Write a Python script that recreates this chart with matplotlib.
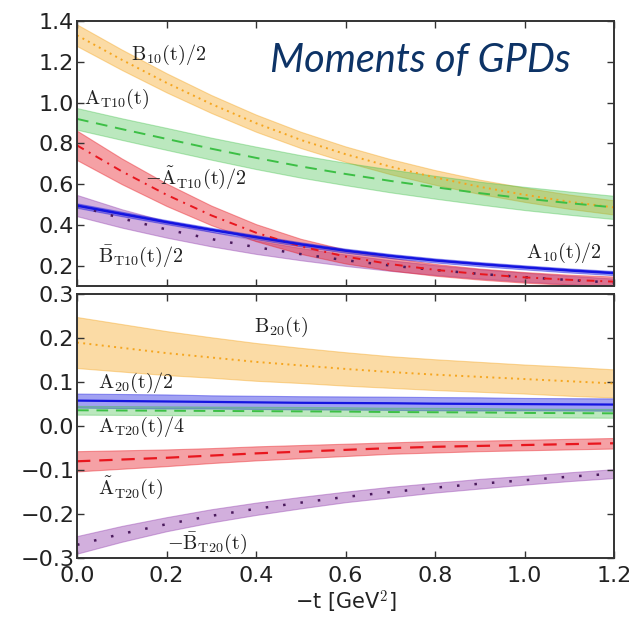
import numpy as np
import matplotlib
matplotlib.use("Agg")
from matplotlib import pyplot as plt

plt.rcParams['mathtext.fontset'] = 'cm'

# -t grid [GeV^2]
t = [0.0, 0.1, 0.2, 0.3, 0.4, 0.5, 0.6, 0.7, 0.8, 0.9, 1.0, 1.1, 1.2]

# n=1 moments (top panel): central values and band half-widths
b10_half = [1.33, 1.21, 1.097, 0.993, 0.899, 0.817, 0.747, 0.686, 0.633, 0.587, 0.548, 0.514, 0.486]
b10_half_err = [0.053, 0.050, 0.047, 0.044, 0.042, 0.040, 0.038, 0.037, 0.036, 0.035, 0.035, 0.035, 0.035]
at10 = [0.92, 0.87, 0.822, 0.774, 0.729, 0.687, 0.65, 0.616, 0.585, 0.556, 0.53, 0.507, 0.486]
at10_err = [0.053, 0.053, 0.054, 0.054, 0.055, 0.055, 0.055, 0.056, 0.056, 0.056, 0.057, 0.057, 0.057]
atil10_half = [0.79, 0.663, 0.548, 0.447, 0.362, 0.295, 0.245, 0.208, 0.18, 0.159, 0.143, 0.131, 0.122]
atil10_err = [0.072, 0.063, 0.055, 0.048, 0.042, 0.037, 0.034, 0.031, 0.029, 0.027, 0.026, 0.025, 0.025]
a10_half = [0.495, 0.454, 0.414, 0.376, 0.34, 0.305, 0.274, 0.248, 0.226, 0.208, 0.192, 0.177, 0.164]
a10_err = [0.011, 0.011, 0.010, 0.010, 0.010, 0.010, 0.010, 0.010, 0.010, 0.010, 0.010, 0.010, 0.010]
bt10_half = [0.495, 0.432, 0.378, 0.331, 0.291, 0.257, 0.227, 0.201, 0.179, 0.16, 0.144, 0.13, 0.117]
bt10_err = [0.052, 0.045, 0.040, 0.036, 0.033, 0.030, 0.028, 0.026, 0.024, 0.023, 0.022, 0.021, 0.020]

# n=2 moments (bottom panel)
b20 = [0.19, 0.178, 0.166, 0.156, 0.146, 0.138, 0.13, 0.123, 0.117, 0.112, 0.107, 0.102, 0.097]
b20_err = [0.058, 0.054, 0.050, 0.046, 0.043, 0.040, 0.038, 0.036, 0.035, 0.034, 0.033, 0.033, 0.032]
a20_half = [0.058, 0.057, 0.056, 0.055, 0.054, 0.053, 0.0525, 0.052, 0.051, 0.0505, 0.05, 0.0495, 0.049]
a20_err = [0.016, 0.016, 0.016, 0.015, 0.015, 0.015, 0.015, 0.015, 0.015, 0.015, 0.014, 0.014, 0.014]
at20_quarter = [0.036, 0.0355, 0.035, 0.0345, 0.034, 0.0335, 0.033, 0.032, 0.0315, 0.031, 0.030, 0.0295, 0.029]
at20_err = [0.010, 0.010, 0.010, 0.010, 0.010, 0.010, 0.010, 0.010, 0.010, 0.010, 0.010, 0.010, 0.010]
atil20 = [-0.08, -0.076, -0.072, -0.067, -0.062, -0.058, -0.054, -0.05, -0.047, -0.045, -0.043, -0.041, -0.039]
atil20_err = [0.023, 0.021, 0.019, 0.017, 0.016, 0.015, 0.014, 0.013, 0.013, 0.012, 0.012, 0.012, 0.012]
bt20_neg = [-0.27, -0.245, -0.223, -0.204, -0.188, -0.174, -0.161, -0.15, -0.14, -0.131, -0.123, -0.115, -0.108]
bt20_err = [0.020, 0.018, 0.016, 0.015, 0.014, 0.013, 0.012, 0.012, 0.011, 0.011, 0.010, 0.010, 0.010]

ORANGE = '#f5a51e'
GREEN = '#3cbf45'
RED = '#e8161e'
BLUE = '#1414e0'
PURPLE = '#9c4fb5'


def band(ax, y, err, color, ls, lc=None, lw=1.4, alpha=0.4):
    y = np.array(y)
    err = np.array(err)
    ax.fill_between(t, y - err, y + err, color=color, alpha=alpha, lw=0.8)
    ax.plot(t, y, color=lc or color, ls=ls, lw=lw)


fig = plt.figure(figsize=(6.35, 6.18), dpi=100)
ax1 = fig.add_axes([0.1213, 0.537, 0.8457, 0.429])
ax2 = fig.add_axes([0.1213, 0.097, 0.8457, 0.427])

band(ax1, b10_half, b10_half_err, ORANGE, (0, (1, 2.2)), lw=1.4)
band(ax1, at10, at10_err, GREEN, (0, (6, 4)), lw=1.4, alpha=0.35)
band(ax1, bt10_half, bt10_err, PURPLE, (0, (1, 6)), lc='#4a1a5c', lw=1.8, alpha=0.45)
band(ax1, atil10_half, atil10_err, RED, (0, (4, 3, 1, 3)), lw=1.4)
band(ax1, a10_half, a10_err, BLUE, '-', lw=1.8)

band(ax2, b20, b20_err, ORANGE, (0, (1, 2.2)), lw=1.4)
band(ax2, a20_half, a20_err, BLUE, '-', lw=1.6)
band(ax2, at20_quarter, at20_err, GREEN, (0, (6, 4)), lw=1.4, alpha=0.35)
band(ax2, atil20, atil20_err, RED, (0, (6, 4)), lw=1.6)
band(ax2, bt20_neg, bt20_err, PURPLE, (0, (1, 6)), lc='#4a1a5c', lw=1.8, alpha=0.45)

lab = dict(fontsize=14.5, va='center', ha='left', color='#222222')
ax1.text(0.12, 1.235, r'$\mathrm{B_{10}(t)/2}$', **lab)
ax1.text(0.016, 1.02, r'$\mathrm{A_{T10}(t)}$', **lab)
ax1.text(0.152, 0.63, r'$\mathrm{-\tilde{A}_{T10}(t)/2}$', **lab)
ax1.text(0.047, 0.245, r'$\mathrm{\bar{B}_{T10}(t)/2}$', **lab)
ax1.text(1.003, 0.265, r'$\mathrm{A_{10}(t)/2}$', **lab)
ax1.text(0.432, 1.15, 'Moments of GPDs', fontsize=28.5, style='italic',
         family='Lato', color='#0d3366', va='baseline', ha='left')

ax2.text(0.396, 0.225, r'$\mathrm{B_{20}(t)}$', **lab)
ax2.text(0.047, 0.098, r'$\mathrm{A_{20}(t)/2}$', **lab)
ax2.text(0.047, -0.002, r'$\mathrm{A_{T20}(t)/4}$', **lab)
ax2.text(0.047, -0.139, r'$\mathrm{\tilde{A}_{T20}(t)}$', **lab)
ax2.text(0.2, -0.266, r'$\mathrm{-\bar{B}_{T20}(t)}$', **lab)

for ax in (ax1, ax2):
    ax.set_xlim(0, 1.2)
    ax.set_xticks([0.0, 0.2, 0.4, 0.6, 0.8, 1.0, 1.2])
    ax.tick_params(direction='in', top=True, right=True, length=5,
                   width=1, color='#333333', labelsize=16, labelcolor='#222222')
    ax.tick_params(axis='y', pad=2)
    ax.tick_params(axis='x', pad=6)
    for s in ax.spines.values():
        s.set_color('#333333')
        s.set_linewidth(1.4)

ax1.set_ylim(0.1, 1.4)
ax1.set_yticks([0.2, 0.4, 0.6, 0.8, 1.0, 1.2, 1.4])
ax1.tick_params(labelbottom=False)
ax2.set_ylim(-0.3, 0.3)
ax2.set_yticks([-0.3, -0.2, -0.1, 0.0, 0.1, 0.2, 0.3])
ax2.set_xlabel('\u2212t [GeV$^2$]', fontsize=15, color='#222222', labelpad=2)

fig.savefig('out.png', dpi=100)
